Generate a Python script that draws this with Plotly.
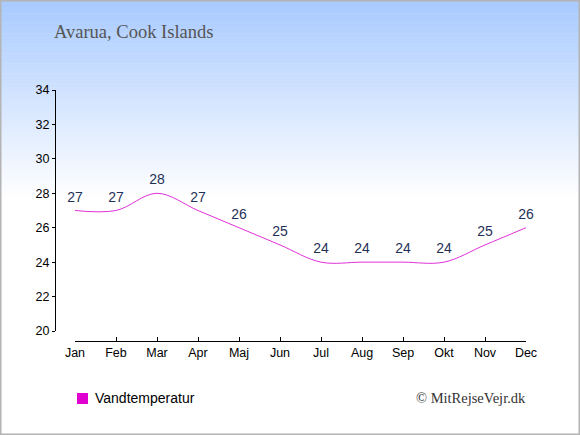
import plotly.graph_objects as go

months = ["Jan", "Feb", "Mar", "Apr", "Maj", "Jun", "Jul", "Aug", "Sep", "Okt", "Nov", "Dec"]
water_temp = [27, 27, 28, 27, 26, 25, 24, 24, 24, 24, 25, 26]
y_ticks = [20, 22, 24, 26, 28, 30, 32, 34]
series_name = "Vandtemperatur"
title_text = "Avarua, Cook Islands"
credit_text = "© MitRejseVejr.dk"

W, H = 580, 435
L, R, T, B = 55, 54, 90, 94
pw, ph = W - L - R, H - T - B


def px(X):
    return (X - L) / pw


def py(Y):
    return (H - B - Y) / ph


fig = go.Figure()

fig.add_trace(go.Scatter(
    x=months, y=water_temp, mode="lines+markers+text",
    line=dict(color="#e030d8", width=1, shape="spline"),
    marker=dict(size=7, color="rgba(0,0,0,0)"),
    text=[str(v) for v in water_temp], textposition="top center",
    textfont=dict(family="Liberation Sans, Arial", size=14, color="#1f3158"),
    showlegend=False, hoverinfo="skip", cliponaxis=False,
))

# gradient background
shapes = []
steps = 60
top_c = (168, 202, 255)
for i in range(steps):
    t = i / (steps - 1)
    c = tuple(int(round(a + (255 - a) * t)) for a in top_c)
    y0 = 200 * i / steps
    y1 = 200 * (i + 1) / steps + 0.5
    shapes.append(dict(type="rect", xref="paper", yref="paper", layer="below",
                       x0=px(0), x1=px(W), y0=py(y1), y1=py(y0),
                       line=dict(width=0), fillcolor="rgb(%d,%d,%d)" % c))
shapes.append(dict(type="rect", xref="paper", yref="paper", layer="above",
                   x0=px(0.5), x1=px(W - 0.5), y0=py(H - 0.5), y1=py(0.5),
                   line=dict(width=2, color="#b4b4b4"), fillcolor="rgba(0,0,0,0)"))
# legend swatch
shapes.append(dict(type="rect", xref="paper", yref="paper", layer="above",
                   x0=px(77), x1=px(88), y0=py(404), y1=py(393),
                   line=dict(width=0), fillcolor="#e000d0"))

fig.update_layout(
    width=W, height=H,
    margin=dict(l=L, r=R, t=T, b=B, pad=0),
    paper_bgcolor="white", plot_bgcolor="rgba(0,0,0,0)",
    shapes=shapes,
    font=dict(family="Liberation Sans, Arial", color="black"),
    xaxis=dict(
        domain=[px(75), 1], anchor="free", position=0,
        range=[0, 11], showgrid=False, zeroline=False,
        showline=True, linecolor="black", linewidth=1,
        ticks="inside", ticklen=4, tickcolor="black",
        tickfont=dict(size=12.5, color="black"),
        fixedrange=True,
    ),
    yaxis=dict(
        domain=[py(331), 1], anchor="free", position=0,
        range=[20, 34], tickvals=y_ticks, showgrid=False, zeroline=False,
        showline=True, linecolor="black", linewidth=1,
        ticks="outside", ticklen=3, tickcolor="black",
        tickfont=dict(size=12.5, color="black"),
        fixedrange=True,
    ),
    showlegend=False,
    annotations=[
        dict(text=title_text, xref="paper", yref="paper", x=px(52), y=py(32),
             xanchor="left", yanchor="middle", showarrow=False,
             font=dict(family="Liberation Serif, Times New Roman, serif", size=18.5, color="#555555")),
        dict(text=credit_text, xref="paper", yref="paper", x=px(528), y=py(398),
             xanchor="right", yanchor="middle", showarrow=False,
             font=dict(family="Liberation Serif, Times New Roman, serif", size=14.5, color="#333333")),
        dict(text=series_name, xref="paper", yref="paper", x=px(93), y=py(398),
             xanchor="left", yanchor="middle", showarrow=False,
             font=dict(family="Liberation Sans, Arial", size=14, color="black")),
    ],
)

fig.write_html("out.html", config={"displayModeBar": False},
               post_script="document.body.style.margin='0';document.body.style.padding='0';")
